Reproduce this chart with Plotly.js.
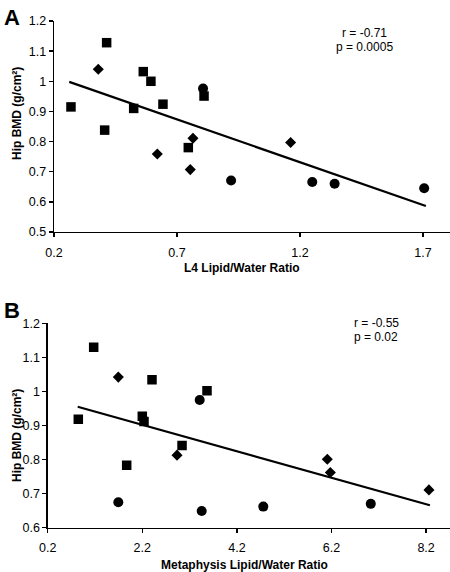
<!DOCTYPE html>
<html>
<head>
<meta charset="utf-8">
<script src="https://cdn.plot.ly/plotly-3.0.1.min.js"></script>
<style>html,body{margin:0;padding:0;background:#fff}#chart{width:450px;height:572px}</style>
</head>
<body>
<div id="chart"></div>
<script>
// Panel A: L4 Lipid/Water Ratio vs Hip BMD
const aSquareX = [0.269, 0.414, 0.406, 0.524, 0.563, 0.594, 0.643, 0.746, 0.810];
const aSquareY = [0.915, 1.128, 0.838, 0.910, 1.032, 1.000, 0.924, 0.780, 0.951];
const aDiamondX = [0.380, 0.620, 0.754, 0.765, 1.162];
const aDiamondY = [1.040, 0.759, 0.707, 0.811, 0.797];
const aCircleX = [0.806, 0.920, 1.250, 1.341, 1.705];
const aCircleY = [0.976, 0.671, 0.666, 0.660, 0.645];
const aTrendX = [0.262, 1.712];
const aTrendY = [0.998, 0.586];
const aStats = ["r = -0.71", "p = 0.0005"];

// Panel B: Metaphysis Lipid/Water Ratio vs Hip BMD
const bSquareX = [0.847, 1.172, 1.870, 2.200, 2.236, 2.405, 3.040, 3.568];
const bSquareY = [0.918, 1.130, 0.783, 0.927, 0.912, 1.034, 0.841, 1.002];
const bDiamondX = [1.693, 2.934, 6.111, 6.175, 8.260];
const bDiamondY = [1.042, 0.813, 0.801, 0.762, 0.711];
const bCircleX = [1.693, 3.413, 3.456, 4.758, 7.030];
const bCircleY = [0.675, 0.975, 0.649, 0.662, 0.670];
const bTrendX = [0.834, 8.280];
const bTrendY = [0.955, 0.666];
const bStats = ["r = -0.55", "p = 0.02"];

const aXTicks = [0.2, 0.7, 1.2, 1.7];
const aXTickText = ["0.2", "0.7", "1.2", "1.7"];
const aYTicks = [0.5, 0.6, 0.7, 0.8, 0.9, 1.0, 1.1, 1.2];
const aYTickText = ["0.5", "0.6", "0.7", "0.8", "0.9", "1", "1.1", "1.2"];
const bXTicks = [0.2, 2.2, 4.2, 6.2, 8.2];
const bXTickText = ["0.2", "2.2", "4.2", "6.2", "8.2"];
const bYTicks = [0.6, 0.7, 0.8, 0.9, 1.0, 1.1, 1.2];
const bYTickText = ["0.6", "0.7", "0.8", "0.9", "1", "1.1", "1.2"];

const yTitle = "Hip BMD (g/cm²)";
const aXTitle = "L4 Lipid/Water Ratio";
const bXTitle = "Metaphysis Lipid/Water Ratio";

const blk = "#000";
function pts(x, y, sym, size, xa, ya) {
  return {x: x, y: y, mode: "markers", type: "scatter", xaxis: xa, yaxis: ya,
    marker: {symbol: sym, size: size, color: blk, line: {width: 0}}, hoverinfo: "skip"};
}
function line(x, y, xa, ya) {
  return {x: x, y: y, mode: "lines", type: "scatter", xaxis: xa, yaxis: ya,
    line: {color: blk, width: 2.2}, hoverinfo: "skip"};
}

const data = [
  line(aTrendX, aTrendY, "x", "y"),
  pts(aCircleX, aCircleY, "circle", 10, "x", "y"),
  pts(aSquareX, aSquareY, "square", 9.5, "x", "y"),
  pts(aDiamondX, aDiamondY, "diamond", 8.5, "x", "y"),
  line(bTrendX, bTrendY, "x2", "y2"),
  pts(bCircleX, bCircleY, "circle", 10, "x2", "y2"),
  pts(bSquareX, bSquareY, "square", 9.5, "x2", "y2"),
  pts(bDiamondX, bDiamondY, "diamond", 8.5, "x2", "y2")
];

const tickFont = {family: "Liberation Sans, Arial, sans-serif", size: 12.5, color: blk};
function axis(extra) {
  return Object.assign({
    showgrid: false, zeroline: false, showline: true, linecolor: blk, linewidth: 1.3,
    ticks: "outside", ticklen: 4, tickwidth: 1.3, tickcolor: blk, tickfont: tickFont,
    fixedrange: true, automargin: false
  }, extra);
}

const titleFont = {family: "Liberation Sans, Arial, sans-serif", size: 12, color: blk, weight: "bold"};
const statFont = {family: "Liberation Sans, Arial, sans-serif", size: 12, color: blk};
const letterFont = {family: "Liberation Sans, Arial, sans-serif", size: 22, color: blk, weight: "bold"};

const layout = {
  width: 450, height: 572,
  margin: {l: 0, r: 0, t: 0, b: 0},
  paper_bgcolor: "#fff", plot_bgcolor: "#fff",
  showlegend: false,
  xaxis: axis({domain: [0.12, 1.0], range: [0.2, 1.81], tickvals: aXTicks, ticktext: aXTickText, anchor: "y", ticklabelstandoff: 5}),
  yaxis: axis({domain: [0.5944, 0.9633], range: [0.5, 1.2], tickvals: aYTicks, ticktext: aYTickText, anchor: "x"}),
  xaxis2: axis({domain: [0.106, 1.0], range: [0.2, 8.705], tickvals: bXTicks, ticktext: bXTickText, anchor: "y2", ticklabelstandoff: 4}),
  yaxis2: axis({domain: [0.0774, 0.4348], range: [0.6, 1.2], tickvals: bYTicks, ticktext: bYTickText, anchor: "x2"}),
  annotations: [
    {text: "A", x: 2 / 450, y: 1 - 3 / 572, xref: "paper", yref: "paper", xanchor: "left", yanchor: "top", showarrow: false, font: letterFont},
    {text: "B", x: 2 / 450, y: 1 - 296 / 572, xref: "paper", yref: "paper", xanchor: "left", yanchor: "top", showarrow: false, font: letterFont},
    {text: aStats[0], x: 364 / 450, y: 1 - 33 / 572, xref: "paper", yref: "paper", xanchor: "center", yanchor: "middle", showarrow: false, font: statFont},
    {text: aStats[1], x: 364 / 450, y: 1 - 47 / 572, xref: "paper", yref: "paper", xanchor: "center", yanchor: "middle", showarrow: false, font: statFont},
    {text: bStats[0], x: 376 / 450, y: 1 - 323 / 572, xref: "paper", yref: "paper", xanchor: "center", yanchor: "middle", showarrow: false, font: statFont},
    {text: bStats[1], x: 376 / 450, y: 1 - 337 / 572, xref: "paper", yref: "paper", xanchor: "center", yanchor: "middle", showarrow: false, font: statFont},
    {text: aXTitle, x: 242 / 450, y: 1 - 268 / 572, xref: "paper", yref: "paper", xanchor: "center", yanchor: "middle", showarrow: false, font: titleFont},
    {text: bXTitle, x: 245 / 450, y: 1 - 565 / 572, xref: "paper", yref: "paper", xanchor: "center", yanchor: "middle", showarrow: false, font: titleFont},
    {text: yTitle, x: 17 / 450, y: 1 - 114 / 572, xref: "paper", yref: "paper", xanchor: "center", yanchor: "middle", textangle: -90, showarrow: false, font: titleFont},
    {text: yTitle, x: 17 / 450, y: 1 - 436 / 572, xref: "paper", yref: "paper", xanchor: "center", yanchor: "middle", textangle: -90, showarrow: false, font: titleFont}
  ]
};

Plotly.newPlot("chart", data, layout, {displayModeBar: false, staticPlot: true});
</script>
</body>
</html>
